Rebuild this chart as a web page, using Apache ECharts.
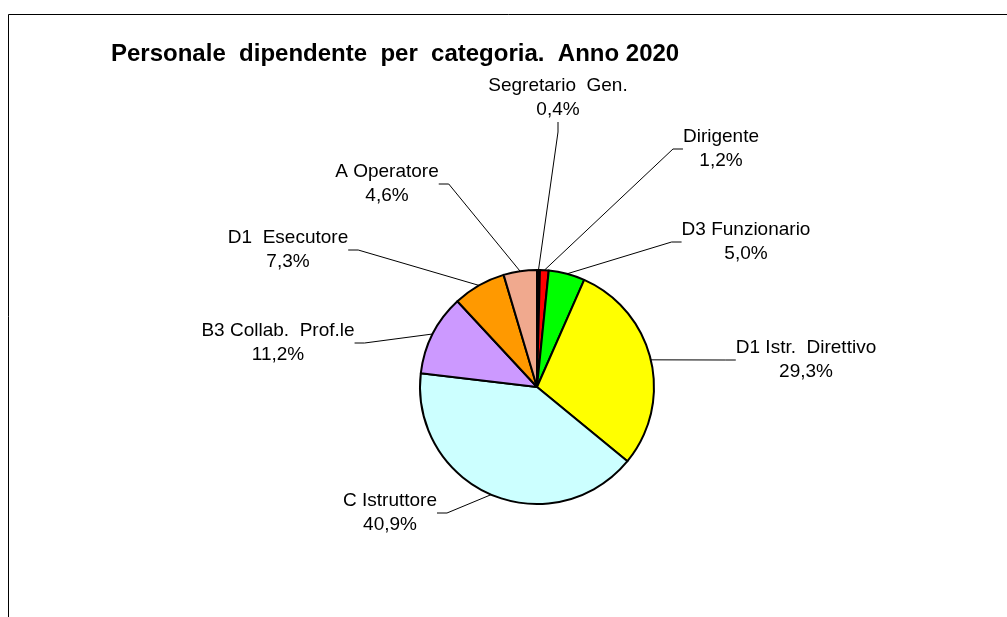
<!DOCTYPE html>
<html>
<head>
<meta charset="utf-8">
<script src="https://cdn.jsdelivr.net/npm/echarts@6/dist/echarts.min.js"></script>
<style>
  html, body { margin: 0; padding: 0; background: #fff; }
  #chart { width: 1007px; height: 617px; }
</style>
</head>
<body>
<div id="chart"></div>
<script>
// categorie e percentuali (in senso orario dall'alto)
const categories = ['Segretario  Gen.', 'Dirigente', 'D3 Funzionario', 'D1 Istr.  Direttivo',
  'C Istruttore', 'B3 Collab.  Prof.le', 'D1  Esecutore', 'A Operatore'];
const percentages = [0.4, 1.2, 5.0, 29.3, 40.9, 11.2, 7.3, 4.6];
const sliceColors = ['#000000', '#ff0000', '#00ff00', '#ffff00', '#ccffff', '#cc99ff', '#ff9900', '#f0a98e'];

// posizioni delle etichette (centro del testo)
const labelPos = [
  [558, 86], [721, 137], [746, 230], [806, 348],
  [390, 501], [278, 331], [288, 238], [387, 172]
];

const chart = echarts.init(document.getElementById('chart'));

const option = {
  backgroundColor: '#ffffff',
  animation: false,
  title: {
    text: 'Personale  dipendente  per  categoria.  Anno 2020',
    left: 106, top: 37,
    textStyle: { fontFamily: 'Liberation Sans', fontWeight: 'bold', fontSize: 24, color: '#000' }
  },
  graphic: [{
    type: 'rect',
    shape: { x: 8.5, y: 14.5, width: 1100, height: 700 },
    style: { fill: 'none', stroke: '#000', lineWidth: 1 }
  }],
  series: [{
    type: 'pie',
    center: [537, 387],
    radius: 117,
    startAngle: 90,
    clockwise: true,
    avoidLabelOverlap: false,
    data: categories.map((name, i) => ({
      name: name, value: percentages[i], itemStyle: { color: sliceColors[i] }
    })),
    itemStyle: { borderColor: '#000', borderWidth: 2 },
    label: {
      show: true,
      formatter: p => p.name + '\n' + p.value.toFixed(1).replace('.', ',') + '%',
      fontFamily: 'Liberation Sans', fontSize: 19, lineHeight: 24, color: '#000',
      align: 'center'
    },
    labelLine: { show: true, length: 20, length2: 10, lineStyle: { color: '#000', width: 1 } },
    labelLayout: function (params) {
      const pos = labelPos[params.dataIndex];
      return { x: pos[0], y: pos[1] + 12, align: 'center', verticalAlign: 'middle' };
    },
    emphasis: { disabled: true }
  }]
};

chart.setOption(option);
</script>
</body>
</html>
